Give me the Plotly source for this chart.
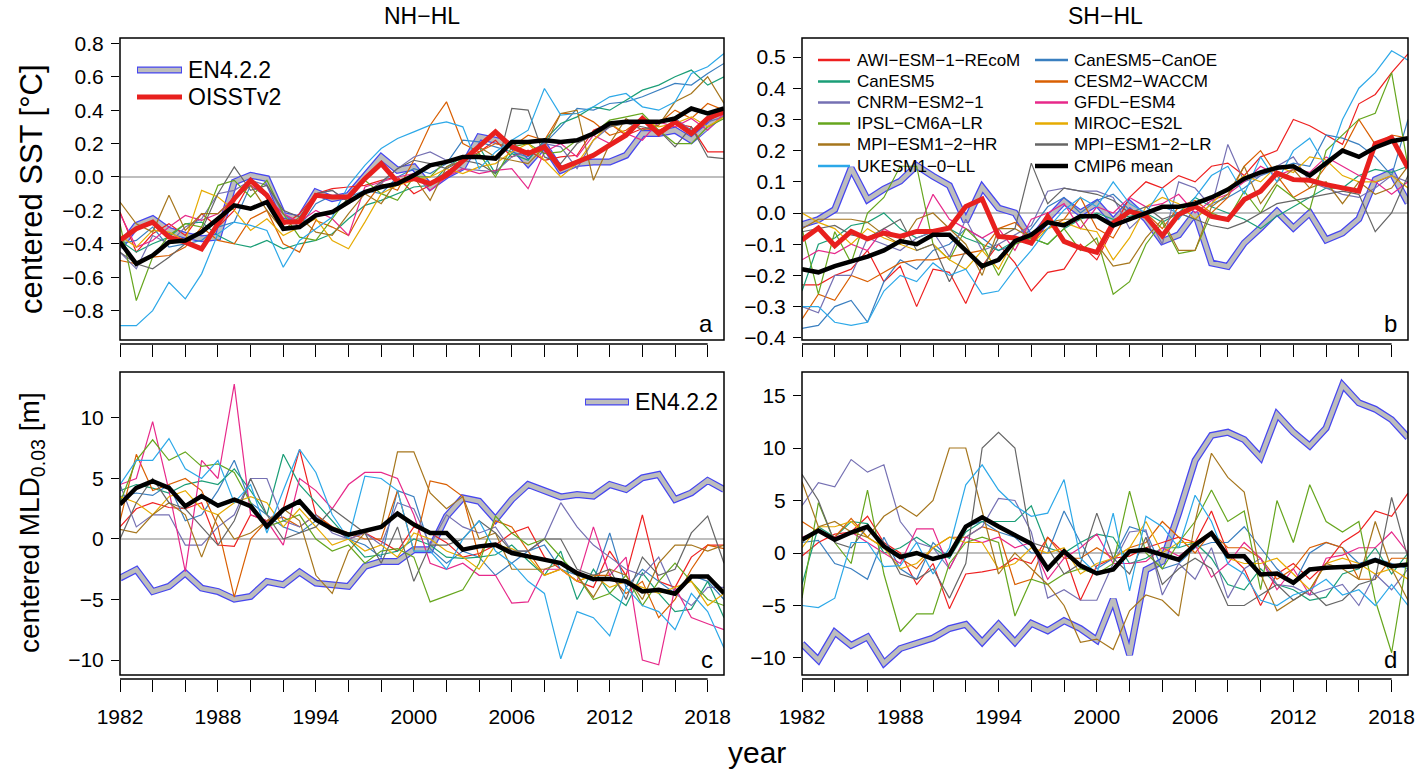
import plotly.graph_objects as go

W, H = 1422, 772
years = list(range(1982, 2020))

model_names = ["AWI−ESM−1−REcoM", "CanESM5−CanOE", "CanESM5", "CESM2−WACCM", "CNRM−ESM2−1",
               "GFDL−ESM4", "IPSL−CM6A−LR", "MIROC−ES2L", "MPI−ESM1−2−HR", "MPI−ESM1−2−LR", "UKESM1−0−LL"]
model_colors = ["#ee2020", "#3a7fc0", "#1b9e77", "#d95f02", "#7570b3",
                "#e7298a", "#66a61e", "#e6ab02", "#a6761d", "#666666", "#2ca8e8"]

# ---------------- panel a: NH-HL SST ----------------
a_en4 = [-0.42,-0.29,-0.25,-0.32,-0.35,-0.37,-0.36,-0.03,0.01,-0.01,-0.23,-0.25,-0.09,-0.13,-0.11,0.00,0.12,0.04,0.06,-0.06,
         0.01,0.06,0.24,0.22,0.19,0.08,0.19,0.04,0.08,0.09,0.09,0.13,0.26,0.26,0.28,0.22,0.30,0.39]
a_oisst = [-0.38,-0.31,-0.27,-0.36,-0.39,-0.43,-0.28,-0.13,-0.02,-0.11,-0.27,-0.27,-0.11,-0.12,-0.12,-0.01,0.08,-0.03,-0.01,-0.04,
           0.01,0.10,0.19,0.27,0.18,0.14,0.18,0.05,0.09,0.13,0.19,0.25,0.35,0.26,0.33,0.26,0.35,0.39]
a_mean = [-0.39,-0.52,-0.47,-0.39,-0.38,-0.33,-0.25,-0.17,-0.19,-0.15,-0.31,-0.30,-0.23,-0.21,-0.15,-0.09,-0.06,-0.04,0.01,0.07,
          0.09,0.12,0.12,0.11,0.21,0.21,0.22,0.21,0.22,0.26,0.32,0.33,0.33,0.33,0.35,0.41,0.38,0.41]
a_awi = [-0.21,-0.45,-0.34,-0.28,-0.35,-0.22,-0.30,-0.20,-0.03,-0.10,-0.29,-0.22,-0.10,-0.07,-0.06,-0.05,-0.02,0.00,-0.10,-0.05,
         0.03,0.10,0.15,0.22,0.12,0.16,0.10,0.12,0.13,0.28,0.32,0.25,0.29,0.28,0.32,0.30,0.15,0.15]
a_canoe = [-0.40,-0.38,-0.30,-0.42,-0.40,-0.38,-0.30,-0.27,-0.05,-0.12,-0.22,-0.30,-0.16,-0.11,-0.12,-0.08,-0.10,0.00,0.05,0.02,
           0.08,0.22,0.21,0.18,0.15,0.12,0.20,0.30,0.41,0.40,0.44,0.45,0.48,0.52,0.56,0.55,0.62,0.68]
a_canesm = [-0.38,-0.45,-0.40,-0.36,-0.28,-0.27,-0.35,-0.40,-0.42,-0.38,-0.43,-0.40,-0.38,-0.34,-0.25,-0.17,-0.14,-0.10,-0.06,-0.05,
            0.06,0.12,0.18,0.02,0.14,0.10,0.22,0.32,0.36,0.42,0.40,0.46,0.52,0.55,0.60,0.64,0.55,0.60]
a_cesm = [-0.50,-0.52,-0.48,-0.47,-0.42,-0.30,-0.38,-0.40,-0.25,-0.20,-0.40,-0.45,-0.26,-0.30,-0.35,-0.17,-0.04,-0.08,0.10,0.31,
          0.45,0.20,0.15,0.20,0.18,0.25,0.22,0.38,0.38,0.33,0.25,0.28,0.35,0.32,0.40,0.35,0.44,0.40]
a_cnrm = [-0.45,-0.55,-0.35,-0.40,-0.30,-0.25,-0.10,-0.08,-0.02,-0.05,-0.22,-0.28,-0.10,-0.08,-0.15,-0.10,-0.04,0.05,0.12,0.15,
          0.10,0.05,0.04,0.03,0.12,0.15,0.20,0.18,0.05,0.22,0.30,0.33,0.28,0.32,0.35,0.28,0.33,0.36]
a_gfdl = [-0.22,-0.42,-0.38,-0.30,-0.23,-0.26,-0.22,-0.12,-0.05,-0.12,-0.22,-0.27,-0.20,-0.25,-0.35,-0.06,-0.03,0.00,0.02,-0.08,
          0.00,0.05,0.02,0.04,0.05,-0.07,0.15,0.20,0.12,0.25,0.20,0.26,0.22,0.33,0.30,0.35,0.28,0.38]
a_ipsl = [-0.28,-0.74,-0.48,-0.35,-0.28,-0.30,-0.05,-0.02,-0.12,-0.02,-0.22,-0.36,-0.38,-0.25,-0.12,-0.02,-0.10,-0.14,0.00,0.00,
          0.10,0.10,0.14,0.00,0.18,0.20,0.14,0.15,0.22,0.26,0.34,0.36,0.38,0.28,0.20,0.20,0.30,0.35]
a_miroc = [-0.35,-0.42,-0.32,-0.33,-0.38,-0.08,-0.12,-0.20,-0.32,-0.25,-0.35,-0.30,-0.25,-0.38,-0.43,-0.27,-0.10,-0.05,-0.02,0.00,
           0.05,0.02,0.06,0.08,0.15,0.20,0.10,0.00,0.08,0.22,0.32,0.26,0.34,0.30,0.32,0.36,0.30,0.36]
a_mpihr = [-0.15,-0.28,-0.33,-0.11,-0.32,-0.22,-0.22,-0.13,-0.05,-0.20,-0.32,-0.24,-0.33,-0.35,-0.22,-0.10,-0.16,-0.02,0.00,-0.14,
           0.06,0.10,0.18,0.12,0.10,0.08,0.18,0.38,0.40,-0.02,0.20,0.35,0.28,0.31,0.45,0.50,0.60,0.44]
a_mpilr = [-0.45,-0.52,-0.55,-0.48,-0.40,-0.32,-0.10,0.06,-0.08,-0.05,-0.20,-0.24,-0.10,-0.08,-0.15,-0.10,-0.03,0.05,0.10,0.08,
           0.05,0.10,0.08,0.02,0.41,0.40,0.12,0.08,0.20,0.25,0.30,0.32,0.30,0.28,0.18,0.30,0.12,0.11]
a_ukesm = [-0.89,-0.89,-0.80,-0.63,-0.73,-0.58,-0.34,-0.27,-0.29,-0.32,-0.54,-0.38,-0.31,-0.24,-0.05,0.07,0.17,0.23,0.27,0.31,
           0.33,0.30,0.05,0.15,0.22,0.28,0.53,0.37,0.38,0.42,0.48,0.50,0.42,0.40,0.45,0.62,0.66,0.74]

# ---------------- panel b: SH-HL SST ----------------
b_en4 = [-0.037,-0.021,0.011,0.144,0.043,0.077,0.102,0.152,0.118,0.088,-0.027,0.083,0.016,0.0,-0.086,-0.019,0.037,0.0,0.032,-0.027,
         0.030,-0.019,-0.091,-0.070,0.0,-0.160,-0.171,-0.096,-0.048,0.005,-0.048,0.0,-0.086,-0.064,-0.019,0.107,0.130,0.032]
b_oisst = [-0.086,-0.048,-0.105,-0.059,-0.083,-0.064,-0.075,-0.059,-0.059,-0.048,0.021,0.045,-0.075,-0.080,-0.096,-0.011,-0.091,-0.112,-0.126,-0.032,
           0.005,-0.011,-0.073,-0.005,0.021,-0.011,-0.021,0.043,0.070,0.128,0.107,0.105,0.091,0.080,0.070,0.222,0.241,0.144]
b_mean = [-0.18,-0.19,-0.17,-0.155,-0.14,-0.12,-0.09,-0.10,-0.07,-0.07,-0.12,-0.17,-0.15,-0.09,-0.07,-0.03,-0.04,-0.01,-0.01,-0.04,
          -0.02,0.00,0.02,0.02,0.03,0.05,0.075,0.11,0.13,0.145,0.15,0.12,0.16,0.20,0.18,0.21,0.23,0.24]
b_awi = [-0.23,-0.23,-0.20,-0.18,-0.12,-0.22,-0.17,-0.30,-0.18,-0.19,-0.29,-0.17,-0.10,-0.16,-0.25,-0.19,-0.18,-0.10,-0.15,-0.05,
         0.05,0.10,0.08,0.12,0.10,0.15,0.16,0.12,0.18,0.20,0.30,0.28,0.25,0.22,0.35,0.38,0.45,0.51]
b_canoe = [-0.37,-0.36,-0.30,-0.28,-0.35,-0.22,-0.15,-0.18,-0.12,-0.10,-0.05,-0.08,-0.12,-0.10,-0.05,0.02,0.05,0.00,0.04,0.06,
           0.01,0.00,0.02,0.00,-0.02,0.03,0.05,0.08,0.12,0.14,0.16,0.15,0.25,0.24,0.22,0.18,0.12,0.30]
b_canesm = [-0.25,-0.10,-0.08,-0.04,-0.03,0.00,-0.05,-0.08,-0.06,-0.05,-0.08,-0.10,-0.12,-0.09,-0.08,-0.10,-0.05,-0.02,0.00,-0.02,
            -0.01,0.00,-0.03,0.00,0.05,0.02,0.00,-0.02,-0.05,-0.01,0.02,0.05,0.08,0.08,0.12,0.14,0.13,0.15]
b_cesm = [-0.34,-0.26,-0.28,-0.20,-0.22,-0.19,-0.16,-0.15,-0.15,-0.14,-0.13,-0.12,-0.05,-0.03,-0.08,-0.05,-0.02,0.05,-0.05,-0.08,
          0.01,0.00,-0.05,0.02,0.04,0.00,0.05,0.15,0.20,0.12,0.05,0.08,0.15,0.20,0.30,0.22,0.25,0.24]
b_cnrm = [-0.30,-0.32,-0.20,-0.20,-0.08,-0.10,-0.12,-0.08,-0.06,-0.14,-0.02,-0.12,-0.10,-0.07,-0.04,0.07,0.08,0.07,0.07,0.05,
          -0.05,0.00,-0.10,0.10,0.08,0.02,0.22,0.10,0.12,0.15,0.18,0.10,0.08,0.06,0.05,0.08,0.12,0.10]
b_gfdl = [-0.15,-0.12,-0.13,-0.10,-0.12,-0.05,-0.08,-0.06,0.06,-0.02,-0.05,-0.08,-0.05,-0.12,-0.02,0.00,0.03,-0.05,0.02,0.00,
          0.05,0.02,0.03,0.06,0.00,0.04,0.06,0.10,0.15,0.12,0.14,0.13,0.18,0.15,0.12,0.10,0.06,0.10]
b_ipsl = [-0.05,-0.26,-0.06,-0.16,0.00,0.05,0.15,0.15,-0.10,-0.15,-0.05,-0.10,-0.20,-0.10,-0.08,-0.10,-0.05,-0.12,-0.08,-0.26,
          -0.22,-0.10,-0.03,-0.13,-0.12,0.00,-0.02,0.07,0.00,0.09,0.05,0.01,0.20,0.25,0.30,0.32,0.45,0.15]
b_miroc = [0.00,-0.03,-0.05,-0.10,-0.05,-0.08,-0.10,-0.12,-0.10,-0.15,-0.18,-0.12,-0.18,-0.08,-0.10,-0.05,-0.03,-0.05,-0.06,-0.15,
           -0.08,0.02,0.05,0.03,-0.02,0.03,0.08,0.12,0.10,0.15,0.13,0.18,0.17,0.12,0.10,0.10,0.12,0.08]
b_mpihr = [-0.05,-0.02,-0.02,-0.02,-0.03,-0.07,-0.10,-0.02,0.00,-0.05,-0.10,-0.20,-0.05,-0.05,-0.08,-0.03,-0.02,-0.02,-0.10,-0.17,
           -0.16,-0.08,-0.02,-0.12,-0.12,0.02,0.06,0.15,0.03,0.10,0.14,0.08,0.10,0.03,0.10,0.06,0.08,0.15]
b_mpilr = [-0.06,-0.05,-0.04,-0.07,-0.08,-0.05,-0.02,-0.12,-0.10,-0.22,-0.12,-0.18,-0.08,-0.05,0.16,0.03,0.08,0.07,0.06,0.04,
           0.00,0.02,-0.02,0.00,-0.02,-0.04,-0.05,-0.03,0.00,0.03,0.04,0.05,0.06,0.07,0.06,-0.06,0.00,0.12]
b_ukesm = [-0.30,-0.30,-0.35,-0.36,-0.35,-0.25,-0.20,-0.22,-0.16,-0.20,-0.18,-0.26,-0.25,-0.18,-0.12,-0.05,0.01,0.05,0.02,0.10,
           0.03,0.00,0.08,-0.02,0.05,0.12,0.15,0.06,0.18,0.10,0.20,0.24,0.15,0.30,0.40,0.45,0.52,0.49]

# ---------------- panel c: NH-HL MLD ----------------
c_en4 = [-3.23,-2.54,-4.34,-3.92,-2.82,-4.06,-4.34,-4.97,-4.75,-3.51,-3.78,-2.73,-3.65,-3.78,-3.92,-2.27,-1.85,-1.85,-0.88,-0.88,
         1.88,3.40,3.12,1.60,3.26,4.50,4.03,3.48,3.67,3.54,4.50,4.09,5.06,5.33,3.26,3.81,4.83,4.09]
c_mean = [2.85,4.23,4.78,4.23,2.71,3.54,2.76,3.26,2.71,1.05,2.43,3.12,1.60,0.83,0.36,0.64,0.99,2.10,1.19,0.50,
          0.50,-0.88,-0.61,-0.47,-1.16,-1.44,-1.71,-1.99,-2.82,-3.31,-3.31,-3.51,-4.34,-4.20,-4.53,-3.09,-3.09,-4.48]
c_awi = [1.0,2.5,3.0,2.6,2.5,3.0,-0.5,-0.6,2.0,1.5,2.5,7.4,2.0,1.0,0.0,0.5,-0.2,-1.0,1.0,0.5,
         -0.3,-1.5,-1.2,-0.5,0.5,1.0,-1.5,-2.5,-3.5,-4.0,-1.0,-3.0,2.0,-3.5,-4.0,-1.5,-0.5,-0.5]
c_canoe = [3.5,3.8,3.6,4.5,1.5,2.0,4.0,6.5,3.0,2.0,1.0,0.5,1.5,1.0,0.0,-0.5,-1.5,4.0,3.5,-0.8,
           -2.0,-1.0,-1.5,-3.0,-2.0,-1.0,-0.5,-2.5,-3.0,-3.5,0.5,-4.0,-2.5,-3.5,-4.5,-3.0,-3.5,-5.0]
c_canesm = [4.0,4.5,4.2,3.8,4.5,4.8,4.5,5.8,4.0,2.0,7.0,4.5,3.0,1.5,0.0,-1.5,-1.3,-1.0,0.0,-0.5,
            -1.5,-1.6,-1.5,-1.3,-0.5,-1.8,-3.0,-1.0,-5.0,-2.5,-4.5,-5.5,-2.8,-4.5,-6.0,-5.8,-3.5,-6.5]
c_cesm = [1.5,7.0,4.0,4.5,5.0,4.0,1.0,-4.8,0.0,1.5,1.8,1.0,2.0,1.0,0.5,0.0,0.0,4.0,-1.0,4.8,
          4.5,3.5,-1.5,1.5,1.0,-1.0,-3.0,-2.5,-3.5,-3.0,-3.0,-4.5,-3.5,-6.5,-5.0,-2.5,-0.5,-0.8]
c_cnrm = [4.5,1.0,2.0,2.0,-0.5,-0.5,1.0,2.0,5.0,5.0,1.5,1.0,2.0,0.5,0.0,0.5,-0.5,3.0,2.5,-0.5,
          2.0,1.0,0.5,1.0,-1.0,-1.0,0.0,3.0,1.0,-0.5,-1.5,-2.5,-3.0,-1.5,-4.5,-5.5,-4.0,-4.0]
c_gfdl = [4.5,5.0,9.7,4.0,-2.7,6.5,5.0,12.8,2.0,1.5,-0.5,5.0,4.0,2.5,4.5,5.5,5.5,5.0,2.0,-2.0,
          -2.5,-2.0,-3.0,-3.0,-5.3,-5.2,-2.5,-2.5,-3.5,1.0,-3.0,-1.5,-10.0,-10.4,-4.0,-6.5,-7.0,-7.5]
c_ipsl = [3.0,6.5,8.2,6.5,7.2,6.0,6.2,5.5,3.0,1.0,1.5,2.0,0.0,-1.0,-0.5,-2.0,-1.0,-0.8,-1.5,-5.2,
          -4.7,-4.2,-2.0,1.9,0.5,-0.5,0.0,-1.5,-3.0,-5.0,-4.5,-3.0,-5.5,-3.5,-2.0,-3.5,-5.0,-5.5]
c_miroc = [3.5,3.0,2.0,3.5,4.0,2.5,2.0,3.0,3.5,3.0,1.0,2.5,1.0,-0.5,0.0,-1.0,-0.5,-1.5,0.5,0.0,
           -1.0,-1.5,-2.5,-0.5,-0.8,-1.5,-3.0,-2.5,-3.5,-3.0,-4.0,-3.5,-4.0,-4.5,-4.0,-3.5,-5.5,-4.5]
c_mpihr = [0.8,0.5,2.0,3.0,2.0,-1.5,2.0,0.0,0.5,1.5,2.5,1.5,-3.0,-4.5,-1.0,0.5,1.0,7.2,7.2,3.8,
           2.5,3.5,0.0,0.5,-2.5,-2.5,-2.5,-2.0,-3.0,-4.8,-2.5,-3.0,-5.0,-2.0,-0.5,-0.5,-1.0,-0.5]
c_mpilr = [0.0,3.0,5.0,3.0,2.5,1.0,-0.5,1.5,5.0,2.0,0.0,0.5,1.0,2.5,1.5,0.5,-2.0,1.0,-3.5,-0.5,
           -0.5,0.0,1.5,0.5,-1.0,-1.0,0.0,0.0,-2.5,-3.0,-2.5,-5.0,-1.5,-3.0,-2.5,0.5,1.9,-2.0]
c_ukesm = [4.5,6.5,6.5,8.3,5.8,5.0,6.5,3.0,4.5,0.5,4.0,7.4,5.5,2.0,0.0,5.2,5.0,4.0,-1.0,-1.0,
           -2.5,0.0,1.5,-1.0,-2.0,-3.5,-4.5,-9.9,-6.0,-6.5,-8.0,-4.0,-5.5,-6.0,-7.5,-4.5,-6.0,-9.0]

# ---------------- panel d: SH-HL MLD ----------------
d_en4 = [-8.65,-10.2,-7.55,-8.8,-8.0,-10.5,-9.1,-8.65,-8.1,-7.2,-6.8,-8.5,-6.8,-8.5,-6.7,-7.4,-6.45,-7.2,-8.3,-4.4,
         -9.7,-1.6,-0.8,3.8,8.8,11.2,11.5,10.8,9.1,13.2,11.5,10.2,11.9,16.0,14.3,13.7,12.7,11.0]
d_mean = [1.26,2.14,1.26,1.95,2.52,0.63,-0.38,0.0,-0.57,-0.16,2.52,3.4,2.52,1.73,0.88,-1.5,0.16,-1.2,-1.95,-1.57,
          0.16,0.31,-0.16,-0.63,0.79,1.89,-0.31,-0.31,-2.04,-1.95,-2.83,-1.57,-1.41,-1.32,-1.26,-0.69,-1.26,-1.1]
d_awi = [-0.3,1.0,1.8,2.0,3.5,1.0,0.0,-3.0,-1.0,-5.3,-2.0,-1.8,-1.5,-0.5,-1.0,1.5,0.0,-4.5,-1.2,-0.5,
         -0.3,0.5,1.0,1.5,1.0,4.0,0.0,-1.5,-5.0,-2.0,-1.0,-2.5,-1.0,1.0,2.0,4.0,3.5,5.7]
d_canoe = [1.0,1.2,-1.0,-1.5,-2.5,1.5,-1.5,-2.5,1.0,-0.5,2.5,3.0,2.0,1.5,0.0,0.0,4.0,1.0,-1.5,-0.5,
           2.5,2.0,-1.5,-1.0,0.5,1.0,1.0,2.5,0.5,-1.5,-3.0,0.0,1.0,0.5,-1.0,-0.5,-1.0,-1.5]
d_canesm = [-3.0,2.5,1.5,3.0,2.8,0.0,0.5,1.5,0.5,-0.5,2.0,3.0,3.0,3.0,4.5,0.5,0.0,1.0,1.8,1.5,
            -1.0,-0.5,0.5,0.5,1.0,-0.5,-3.0,-3.5,-1.5,-3.0,-3.5,-4.5,-4.2,-2.0,-1.5,0.5,-2.0,0.0]
d_cesm = [3.0,2.0,1.5,3.3,1.5,0.5,-0.5,-1.5,0.5,1.5,1.5,2.5,2.0,-3.0,-2.5,1.5,-0.5,-0.5,0.5,-0.5,
          0.5,1.0,3.0,1.5,0.0,2.0,0.5,0.5,-0.5,-2.5,-1.5,0.5,1.0,0.5,-2.5,-2.5,-0.5,-0.5]
d_cnrm = [4.5,6.7,6.3,8.9,7.7,8.4,3.0,1.0,0.5,-1.5,1.5,2.5,5.2,5.0,2.0,-4.3,-3.5,-4.5,-4.5,-1.0,
          2.0,2.2,-4.0,-1.0,-2.5,0.5,-4.3,-1.5,-0.5,-3.0,-3.2,-4.0,-3.5,-3.0,-5.0,-2.0,-3.5,-1.5]
d_gfdl = [1.5,2.0,1.5,2.0,1.0,0.0,-1.0,2.3,2.3,-1.5,1.5,1.0,1.5,0.5,1.0,-2.5,-0.5,0.5,1.8,-1.0,
          -1.0,-0.8,0.5,-0.3,0.8,-2.3,-1.0,1.0,-0.5,-3.5,-1.5,-4.0,-0.5,-0.2,0.5,0.5,2.0,0.0]
d_ipsl = [-4.3,4.8,1.0,-1.0,6.0,-2.0,-7.5,-5.8,-5.8,-1.0,1.0,1.5,1.0,-6.0,-2.5,-3.0,-2.0,-1.5,-2.0,-1.0,
          5.9,0.0,-1.5,1.0,3.0,6.0,3.0,4.0,-3.5,5.0,1.0,6.5,3.0,2.0,3.0,-4.5,-9.5,0.0]
d_miroc = [0.5,2.5,2.5,3.0,1.5,0.5,-1.5,-1.0,0.5,1.5,1.0,1.0,-1.5,-1.0,0.5,0.0,0.5,-2.0,-1.0,-0.5,
           0.5,3.0,0.0,1.0,1.0,2.0,-0.5,-1.0,-1.0,-0.5,-2.0,-3.5,-1.0,-0.5,-1.0,-2.0,-1.5,-2.5]
d_mpihr = [6.8,2.5,3.0,2.0,1.5,3.5,4.5,3.5,5.0,10.0,10.0,4.0,-2.0,0.0,-1.5,-3.0,-5.0,-8.5,-8.2,-9.2,
           -5.5,-4.0,-4.5,-6.0,3.0,9.5,7.2,5.8,-2.0,-5.5,-4.5,-3.5,-1.0,-1.5,-2.5,3.0,-1.5,-4.5]
d_mpilr = [7.5,5.0,1.0,0.5,2.5,1.0,-2.0,-2.5,-1.5,-4.3,-1.0,10.0,11.5,10.0,1.0,0.5,-2.0,-1.0,3.8,-0.5,
           -2.0,1.5,-3.0,-1.5,-0.5,-1.5,-5.0,-5.0,-4.0,-3.0,-4.5,-3.5,-5.0,-4.5,-3.0,-2.5,5.3,-0.5]
d_ukesm = [-5.0,-5.2,-4.3,1.0,1.0,-1.3,-1.2,1.0,-2.0,0.5,6.5,8.4,6.0,4.5,3.5,3.8,7.0,-0.5,-2.0,3.8,
           -3.6,3.5,2.5,0.5,5.5,3.0,-1.0,-2.0,-4.5,-5.0,-4.0,-3.5,-2.5,-4.0,-3.5,-5.0,-3.0,-5.0]

panel_models = {
    "a": [a_awi, a_canoe, a_canesm, a_cesm, a_cnrm, a_gfdl, a_ipsl, a_miroc, a_mpihr, a_mpilr, a_ukesm],
    "b": [b_awi, b_canoe, b_canesm, b_cesm, b_cnrm, b_gfdl, b_ipsl, b_miroc, b_mpihr, b_mpilr, b_ukesm],
    "c": [c_awi, c_canoe, c_canesm, c_cesm, c_cnrm, c_gfdl, c_ipsl, c_miroc, c_mpihr, c_mpilr, c_ukesm],
    "d": [d_awi, d_canoe, d_canesm, d_cesm, d_cnrm, d_gfdl, d_ipsl, d_miroc, d_mpihr, d_mpilr, d_ukesm],
}
panel_en4 = {"a": a_en4, "b": b_en4, "c": c_en4, "d": d_en4}
panel_oisst = {"a": a_oisst, "b": b_oisst}
panel_mean = {"a": a_mean, "b": b_mean, "c": c_mean, "d": d_mean}

# ---------------- layout geometry (pixels) ----------------
FONT = "Liberation Sans, Arial, Helvetica, sans-serif"
def px(x): return x / W
def py(y): return 1 - y / H

boxes = {"a": (120, 724, 38, 340), "b": (802, 1408, 38, 340),
         "c": (120, 724, 372, 675), "d": (802, 1408, 372, 675)}
yranges = {"a": [-0.976, 0.832], "b": [-0.407, 0.561], "c": [-11.24, 13.8], "d": [-11.62, 17.24]}
yticks = {"a": [-0.8, -0.6, -0.4, -0.2, 0.0, 0.2, 0.4, 0.6, 0.8],
          "b": [-0.4, -0.3, -0.2, -0.1, 0.0, 0.1, 0.2, 0.3, 0.4, 0.5],
          "c": [-10, -5, 0, 5, 10], "d": [-10, -5, 0, 5, 10, 15]}
yfmt = {"a": ".1f", "b": ".1f", "c": "d", "d": "d"}
xtick_vals = list(range(1982, 2019, 2))
xtick_text = [str(v) if (v - 1982) % 6 == 0 else "" for v in xtick_vals]

fig = go.Figure()
axid = {"a": "", "b": "2", "c": "3", "d": "4"}
shapes, annos = [], []
layout = {}
AXOFF = 4
TICKFS = 21
for p in "abcd":
    x0, x1, y0, y1 = boxes[p]
    k = axid[p]
    show_lab = p in "cd"
    layout["xaxis" + k] = dict(domain=[px(x0), px(x1)], range=[1982, 2019], anchor="free",
                               position=py(y1 + AXOFF), tickmode="array", tickvals=xtick_vals,
                               ticktext=xtick_text if show_lab else [""] * len(xtick_vals),
                               ticks="outside", ticklen=12, tickwidth=1.4, tickcolor="black",
                               ticklabelstandoff=7,
                               showline=False, showgrid=False, zeroline=False, automargin=False,
                               tickfont=dict(size=TICKFS, color="black", family=FONT))
    layout["yaxis" + k] = dict(domain=[py(y1), py(y0)], range=yranges[p], anchor="x" + k,
                               tickmode="array", tickvals=yticks[p], tickformat=yfmt[p],
                               ticks="outside", ticklen=8, tickwidth=1.4, tickcolor="black",
                               ticklabelstandoff=3,
                               showline=False, showgrid=False, zeroline=False, automargin=False,
                               tickfont=dict(size=TICKFS, color="black", family=FONT))
    xr, yr = "x" + k, "y" + k
    # zero line
    shapes.append(dict(type="line", xref=xr + " domain", yref=yr, x0=0, x1=1, y0=0, y1=0,
                       line=dict(color="#bebebe", width=2), layer="below"))
    # box
    shapes.append(dict(type="rect", xref=xr + " domain", yref=yr + " domain", x0=0, x1=1, y0=0, y1=1,
                       line=dict(color="black", width=1.5), layer="above"))
    # R-style x axis line (first to last tick)
    shapes.append(dict(type="line", xref=xr, yref="paper", x0=1982, x1=2018,
                       y0=py(y1 + AXOFF), y1=py(y1 + AXOFF), line=dict(color="black", width=1.4)))

    # traces
    en4 = panel_en4[p]
    fig.add_trace(go.Scatter(x=years, y=en4, mode="lines", line=dict(color="#4646f0", width=7),
                             xaxis=xr, yaxis=yr, showlegend=False, hoverinfo="skip"))
    fig.add_trace(go.Scatter(x=years, y=en4, mode="lines", line=dict(color="#bdbdbd", width=4.5),
                             xaxis=xr, yaxis=yr, showlegend=False, hoverinfo="skip"))
    for vals, col in zip(panel_models[p], model_colors):
        fig.add_trace(go.Scatter(x=years, y=vals, mode="lines", line=dict(color=col, width=1.2),
                                 xaxis=xr, yaxis=yr, showlegend=False, hoverinfo="skip"))
    if p in panel_oisst:
        fig.add_trace(go.Scatter(x=years, y=panel_oisst[p], mode="lines", line=dict(color="#e8201e", width=5),
                                 xaxis=xr, yaxis=yr, showlegend=False, hoverinfo="skip"))
    fig.add_trace(go.Scatter(x=years, y=panel_mean[p], mode="lines", line=dict(color="black", width=4.5),
                             xaxis=xr, yaxis=yr, showlegend=False, hoverinfo="skip"))

    # panel letter
    annos.append(dict(text=p, xref="paper", yref="paper", x=px(x1 - 9), y=py(y1 - 16),
                      xanchor="right", yanchor="middle", showarrow=False,
                      font=dict(size=24, color="black", family=FONT)))

# titles
annos.append(dict(text="NH−HL", xref="paper", yref="paper", x=px(422), y=py(16), xanchor="center",
                  yanchor="middle", showarrow=False, font=dict(size=23, color="black", family=FONT)))
annos.append(dict(text="SH−HL", xref="paper", yref="paper", x=px(1105), y=py(16), xanchor="center",
                  yanchor="middle", showarrow=False, font=dict(size=23, color="black", family=FONT)))
annos.append(dict(text="centered SST [°C]", xref="paper", yref="paper", x=px(31), y=py(189), textangle=-90,
                  xanchor="center", yanchor="middle", showarrow=False,
                  font=dict(size=31, color="black", family=FONT)))
annos.append(dict(text="centered MLD<sub>0.03</sub> [m]", xref="paper", yref="paper", x=px(31), y=py(523),
                  textangle=-90, xanchor="center", yanchor="middle", showarrow=False,
                  font=dict(size=28, color="black", family=FONT)))
annos.append(dict(text="year", xref="paper", yref="paper", x=px(757), y=py(771), xanchor="center",
                  yanchor="bottom", showarrow=False, font=dict(size=30, color="black", family=FONT)))

# ---------------- legends (drawn manually) ----------------
def leg_line(xa, xb, y, color, width):
    shapes.append(dict(type="line", xref="paper", yref="paper", x0=px(xa), x1=px(xb), y0=py(y), y1=py(y),
                       line=dict(color=color, width=width)))

def leg_text(x, y, text, size):
    annos.append(dict(text=text, xref="paper", yref="paper", x=px(x), y=py(y), xanchor="left",
                      yanchor="middle", showarrow=False, font=dict(size=size, color="black", family=FONT)))

def leg_en4(xa, xb, y):
    leg_line(xa, xb, y, "#4646f0", 7)
    leg_line(xa + 1, xb - 1, y, "#bdbdbd", 4.5)

# panel a
leg_en4(137, 182, 70)
leg_text(186, 70, "EN4.2.2", 23)
leg_line(137, 182, 97, "#e8201e", 5)
leg_text(186, 97, "OISSTv2", 23)
# panel c
leg_en4(585, 629, 402)
leg_text(633, 402, "EN4.2.2", 23)
# panel b (two columns, filled row by row)
leg_names = model_names + ["CMIP6 mean"]
leg_cols = model_colors + ["black"]
row_y = [60, 81.5, 102.5, 123.5, 144.5, 166]
for i, (nm, col) in enumerate(zip(leg_names, leg_cols)):
    r, cidx = i // 2, i % 2
    xa, xb, xt = (818, 850, 855) if cidx == 0 else (1035, 1068, 1072)
    leg_line(xa, xb, row_y[r], col, 4.5 if nm == "CMIP6 mean" else 2.5)
    leg_text(xt, row_y[r], nm, 17)

layout.update(dict(width=W, height=H, margin=dict(l=0, r=0, t=0, b=0, autoexpand=False), paper_bgcolor="white",
                   plot_bgcolor="white", showlegend=False, shapes=shapes, annotations=annos,
                   font=dict(family=FONT, color="black")))
fig.update_layout(**layout)
fig.write_html("out.html")
